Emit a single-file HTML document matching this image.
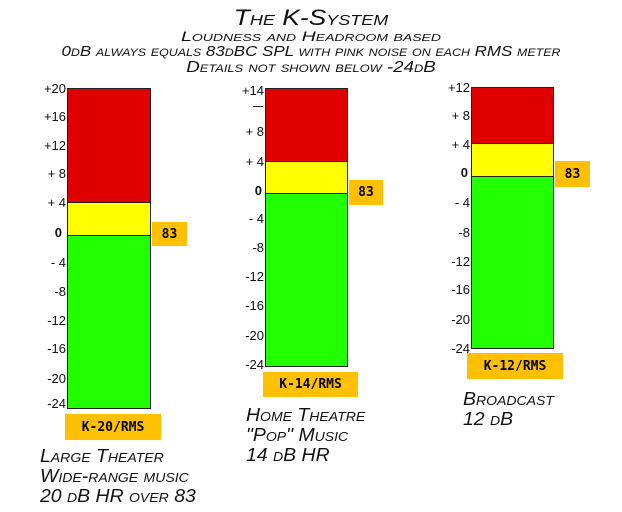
<!DOCTYPE html>
<html><head><meta charset="utf-8"><style>
body{margin:0;background:#fff;width:622px;height:512px;overflow:hidden;position:relative;font-family:"Liberation Sans",sans-serif;}
.t{position:absolute;font-variant:small-caps;white-space:nowrap;color:#111;font-style:italic;transform-origin:311px 0;}
.c{left:0;width:622px;text-align:center;}
.bar{position:absolute;border:1px solid #222;box-sizing:border-box;}
.r{background:#e00000}.y{background:#ffff00;border-top:1px solid #222}.g{background:#22ff00;border-top:1px solid #222}
.tick{position:absolute;font-size:13px;text-align:right;width:40px;color:#111;line-height:12px;}
.tag{position:absolute;background:#ffc000;font-weight:bold;font-family:"DejaVu Sans Mono","Liberation Mono",monospace;font-size:13px;color:#000;display:flex;align-items:center;justify-content:center;}
.cap{position:absolute;font-variant:small-caps;font-style:italic;font-size:18px;line-height:20px;color:#111;white-space:nowrap;transform:scaleX(1.08);transform-origin:0 0;}
</style></head><body>
<div class="t c" style="top:5px;font-size:22px;transform:scaleX(1.2)">The K-System</div>
<div class="t c" style="top:28px;font-size:14px;transform:scaleX(1.4)">Loudness and Headroom based</div>
<div class="t c" style="top:43px;font-size:15px;transform:scaleX(1.13)">0dB always equals 83dBC SPL with pink noise on each RMS meter</div>
<div class="t c" style="top:59px;font-size:16px;transform:scaleX(1.17)">Details not shown below -24dB</div>

<!-- meter 1 -->
<div class="bar" style="left:67px;top:88px;width:84px;height:321px;overflow:hidden">
<div class="r" style="height:113px"></div><div class="y" style="height:32px"></div><div class="g" style="height:180px"></div></div>
<div class="tag" style="left:152px;top:222px;width:35px;height:24px">83</div>
<div class="tag" style="left:65px;top:414px;width:96px;height:26px">K-20/RMS</div>
<div class="tick" style="left:26px;top:83px">+20</div>
<div class="tick" style="left:26px;top:111px">+16</div>
<div class="tick" style="left:26px;top:140px">+12</div>
<div class="tick" style="left:26px;top:168px">+ 8</div>
<div class="tick" style="left:26px;top:197px">+ 4</div>
<div class="tick" style="left:22px;top:227px;font-weight:bold">0</div>
<div class="tick" style="left:26px;top:257px">-  4</div>
<div class="tick" style="left:26px;top:286px">-8</div>
<div class="tick" style="left:26px;top:315px">-12</div>
<div class="tick" style="left:26px;top:343px">-16</div>
<div class="tick" style="left:26px;top:373px">-20</div>
<div class="tick" style="left:26px;top:398px">-24</div>

<!-- meter 2 -->
<div class="bar" style="left:265px;top:88px;width:83px;height:279px;overflow:hidden">
<div class="r" style="height:72px"></div><div class="y" style="height:31px"></div><div class="g" style="height:180px"></div></div>
<div class="tag" style="left:349px;top:180px;width:34px;height:25px">83</div>
<div class="tag" style="left:263px;top:372px;width:95px;height:25px">K-14/RMS</div>
<div class="tick" style="left:224px;top:85px">+14</div>
<div style="position:absolute;left:253px;top:106px;width:10px;height:1px;background:#222"></div>
<div class="tick" style="left:224px;top:126px">+  8</div>
<div class="tick" style="left:224px;top:156px">+  4</div>
<div class="tick" style="left:222px;top:185px;font-weight:bold">0</div>
<div class="tick" style="left:224px;top:213px">-  4</div>
<div class="tick" style="left:224px;top:242px">-8</div>
<div class="tick" style="left:224px;top:271px">-12</div>
<div class="tick" style="left:224px;top:300px">-16</div>
<div class="tick" style="left:224px;top:330px">-20</div>
<div class="tick" style="left:224px;top:359px">-24</div>

<!-- meter 3 -->
<div class="bar" style="left:471px;top:87px;width:83px;height:262px;overflow:hidden">
<div class="r" style="height:55px"></div><div class="y" style="height:32px"></div><div class="g" style="height:180px"></div></div>
<div class="tag" style="left:555px;top:161px;width:35px;height:26px">83</div>
<div class="tag" style="left:467px;top:353px;width:96px;height:26px">K-12/RMS</div>
<div class="tick" style="left:430px;top:82px">+12</div>
<div class="tick" style="left:430px;top:110px">+  8</div>
<div class="tick" style="left:430px;top:139px">+  4</div>
<div class="tick" style="left:428px;top:167px;font-weight:bold">0</div>
<div class="tick" style="left:430px;top:197px">-  4</div>
<div class="tick" style="left:430px;top:227px">-8</div>
<div class="tick" style="left:430px;top:256px">-12</div>
<div class="tick" style="left:430px;top:284px">-16</div>
<div class="tick" style="left:430px;top:314px">-20</div>
<div class="tick" style="left:430px;top:343px">-24</div>

<div class="cap" style="left:40px;top:446px">Large Theater<br>Wide-range music<br>20 dB HR over 83</div>
<div class="cap" style="left:246px;top:405px">Home Theatre<br>"Pop" Music<br>14 dB HR</div>
<div class="cap" style="left:463px;top:389px">Broadcast<br>12 dB</div>
</body></html>
